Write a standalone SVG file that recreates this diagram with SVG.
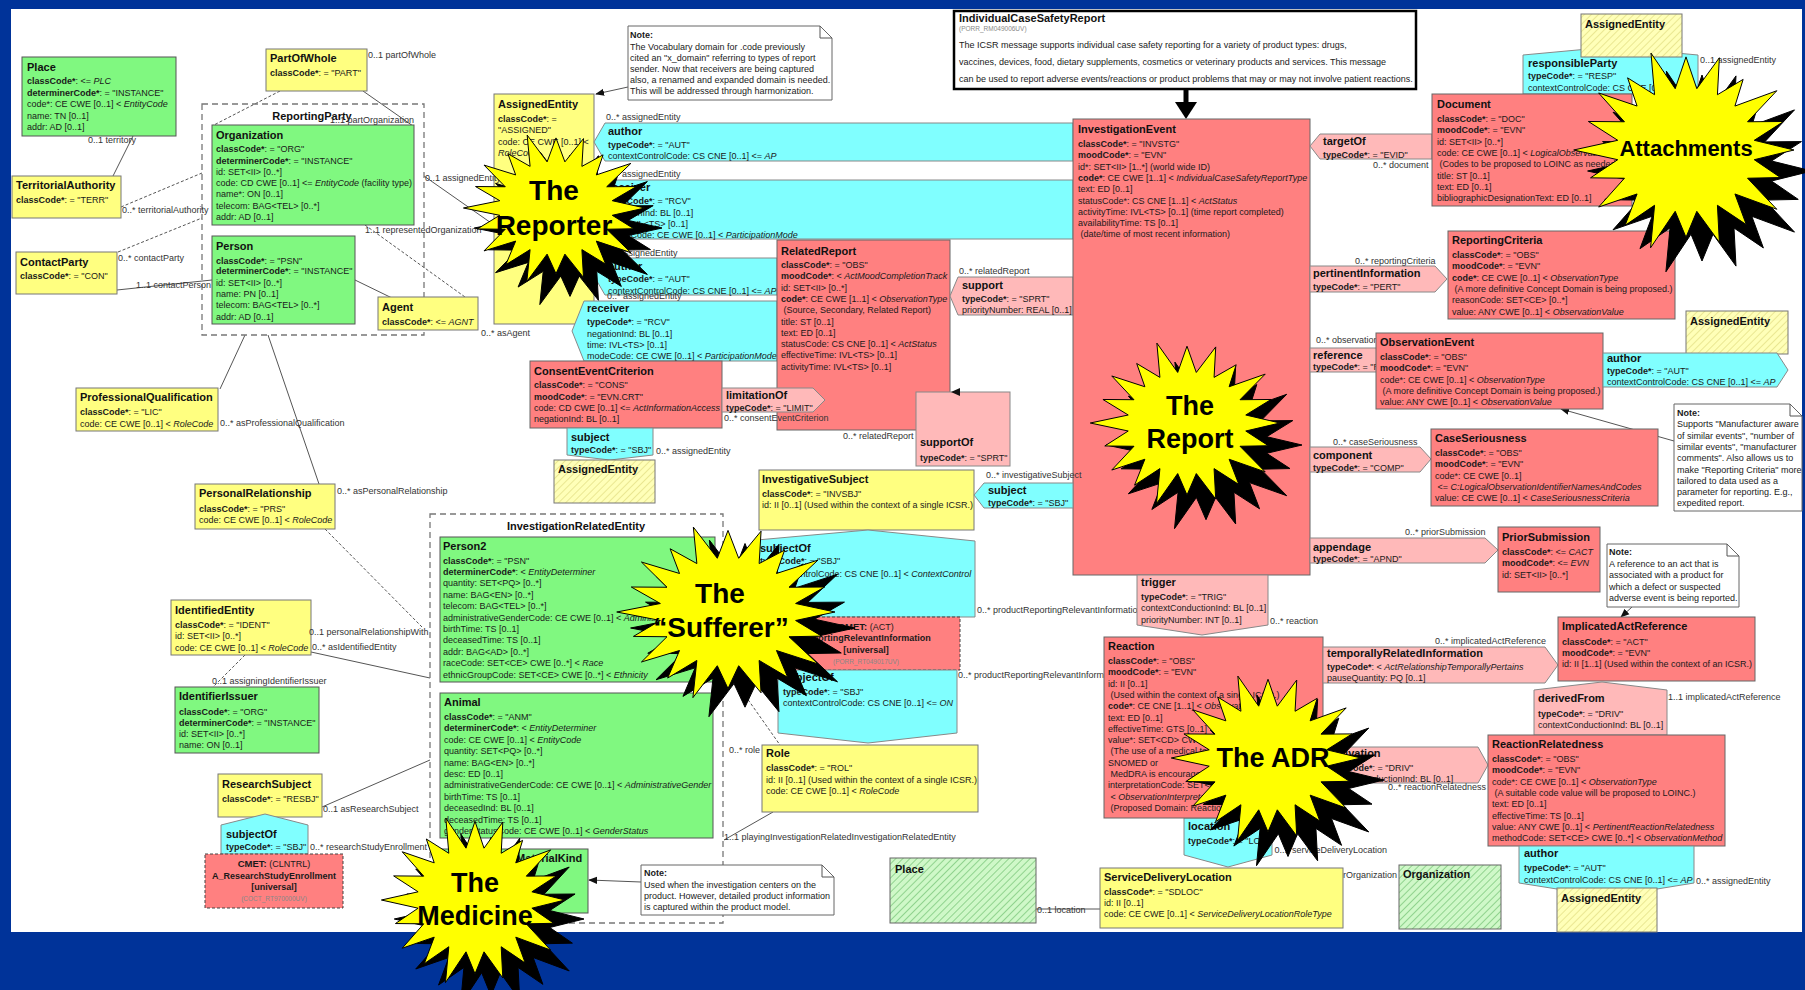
<svg xmlns="http://www.w3.org/2000/svg" width="1805" height="990" viewBox="0 0 1805 990">
<defs>
<style>
text{font-family:"Liberation Sans",Arial,sans-serif}
.t{font-size:11px;font-weight:bold;fill:#111}
.a{font-size:9px;fill:#1a1a1a}
.b{font-weight:bold}
.i{font-style:italic}
.lb{font-size:9px;fill:#333}
.sm{font-size:6.5px;fill:#888}
.cm{text-anchor:middle}
.act{fill:#ff8080;stroke:#666;stroke-width:1}
.rel{fill:#ffb9b9;stroke:#888;stroke-width:1}
.prt{fill:#80ffff;stroke:#888;stroke-width:1}
.rol{fill:#ffff80;stroke:#777;stroke-width:1}
.ent{fill:#80f880;stroke:#555;stroke-width:1}
.roh{fill:url(#hy);stroke:#777;stroke-width:1}
.enh{fill:url(#hg);stroke:#666;stroke-width:1}
.cmet{fill:#ff8080;stroke:#444;stroke-width:1;stroke-dasharray:3 2}
.note{fill:#fff;stroke:#666;stroke-width:1}
.grp{fill:none;stroke:#777;stroke-width:1.3;stroke-dasharray:6 4}
.ln{fill:none;stroke:#555;stroke-width:1}
.dl{fill:none;stroke:#555;stroke-width:1;stroke-dasharray:3 2}
.star{fill:#ffff00;stroke:#000;stroke-width:1}
.sh{fill:#000;stroke:#000;stroke-width:1}
.bt{font-weight:bold;fill:#000;text-anchor:middle}
</style>
<pattern id="hy" width="5" height="5" patternUnits="userSpaceOnUse" patternTransform="rotate(45)"><rect width="5" height="5" fill="#ffffb8"/><line x1="0" y1="0" x2="0" y2="5" stroke="#dcd878" stroke-width="1.2"/></pattern>
<pattern id="hg" width="5" height="5" patternUnits="userSpaceOnUse" patternTransform="rotate(45)"><rect width="5" height="5" fill="#cff8c8"/><line x1="0" y1="0" x2="0" y2="5" stroke="#66bb66" stroke-width="1.2"/></pattern>
<marker id="arr" viewBox="0 0 10 10" refX="9" refY="5" markerWidth="9" markerHeight="9" markerUnits="userSpaceOnUse" orient="auto"><path d="M0,1 L10,5 L0,9 Z" fill="#111"/></marker>
<!-- 20-spike burst outline, radius about 100 around the origin -->
<path id="burst" vector-effect="non-scaling-stroke" d="M100,0 L63.2,10 L87.5,28.4 L57,29.1 L84.1,61.1 L45.3,45.3 L55.8,76.9 L29.1,57 L30.9,95.1 L10,63.2 L0,90 L-10,63.2 L-32.8,100.8 L-29.1,57 L-56.4,77.7 L-45.3,45.3 L-80.9,58.8 L-57,29.1 L-88.4,28.7 L-63.2,10 L-104,0 L-63.2,-10 L-90.4,-29.4 L-57,-29.1 L-80.9,-58.8 L-45.3,-45.3 L-54.1,-74.4 L-29.1,-57 L-32.4,-99.9 L-10,-63.2 L0,-96 L10,-63.2 L30.9,-95.1 L29.1,-57 L52.9,-72.8 L45.3,-45.3 L84.1,-61.1 L57,-29.1 L90.4,-29.4 L63.2,-10 Z"/>
</defs>

<!-- slide background and page -->
<rect x="0" y="0" width="1805" height="990" fill="#003399"/>
<rect x="11" y="9" width="1791" height="923" fill="#ffffff"/>

<!-- connectors and association labels that sit under the boxes -->
<g id="connectors">
  <line class="ln" x1="133" y1="136" x2="113" y2="176"/>
  <line class="dl" x1="121" y1="207" x2="202" y2="173"/>
  <line class="dl" x1="118" y1="252" x2="202" y2="218"/>
  <line class="ln" x1="117" y1="290" x2="212" y2="280"/>
  <line class="dl" x1="280" y1="91" x2="212" y2="126"/>
  <line class="ln" x1="363" y1="91" x2="413" y2="126"/>
  <line class="dl" x1="365" y1="225" x2="465" y2="297"/>
  <line class="ln" x1="355" y1="280" x2="392" y2="298"/>
  <line class="ln" x1="424" y1="176" x2="494" y2="225"/>
  <line class="ln" x1="245" y1="335" x2="220" y2="389"/>
  <line class="ln" x1="268" y1="335" x2="319" y2="484"/>
  <line class="dl" x1="325" y1="529" x2="422" y2="627"/>
  <line class="ln" x1="311" y1="652" x2="430" y2="678"/>
  <line class="dl" x1="245" y1="655" x2="213" y2="687"/>
  <line class="ln" x1="322" y1="807" x2="430" y2="760"/>
  <line class="dl" x1="725" y1="667" x2="780" y2="745"/>
  <line class="ln" x1="773" y1="812" x2="724" y2="840"/>
  <line class="ln" x1="1036" y1="909" x2="1100" y2="909"/>
  <line class="ln" x1="628" y1="87" x2="596" y2="94" marker-end="url(#arr)"/>
  <line class="ln" x1="641" y1="882" x2="589" y2="880" marker-end="url(#arr)"/>
  <line class="ln" x1="1674" y1="441" x2="1561" y2="409" marker-end="url(#arr)"/>
  <line class="ln" x1="1632" y1="607" x2="1621" y2="617" marker-end="url(#arr)"/>
  <line x1="1186" y1="89" x2="1186" y2="104" stroke="#000" stroke-width="5"/>
  <polygon points="1175,102 1197,102 1186,119" fill="#000"/>
  <text class="lb" x="977" y="613">0..* productReportingRelevantInformation</text>
  <text class="lb" x="958" y="678">0..* productReportingRelevantInformation</text>
  <text class="lb" x="1316" y="343">0..* observation</text>
  <text class="lb" x="1387" y="853" text-anchor="end">0..1 serviceDeliveryLocation</text>
  <text class="lb" x="1397" y="878" text-anchor="end">0..1 serviceProviderOrganization</text>
</g>

<!-- left cluster: reporting party -->
<g id="place">
  <rect class="ent" x="22" y="57" width="154" height="79"/>
  <text class="t" x="27" y="71">Place</text>
  <text class="a"><tspan x="27" y="84"><tspan class="b">classCode*</tspan>: &lt;= <tspan class="i">PLC</tspan></tspan><tspan x="27" y="95.5"><tspan class="b">determinerCode*</tspan>: = "INSTANCE"</tspan><tspan x="27" y="107">code*: CE CWE [0..1] &lt; <tspan class="i">EntityCode</tspan></tspan><tspan x="27" y="118.5">name: TN [0..1]</tspan><tspan x="27" y="130">addr: AD [0..1]</tspan></text>
</g>
<g id="territorial-authority">
  <rect class="rol" x="12" y="176" width="109" height="42"/>
  <text class="t" x="16" y="189">TerritorialAuthority</text>
  <text class="a" x="16" y="203"><tspan class="b">classCode*</tspan>: = "TERR"</text>
</g>
<g id="contact-party">
  <rect class="rol" x="16" y="252" width="101" height="42"/>
  <text class="t" x="20" y="266">ContactParty</text>
  <text class="a" x="20" y="279"><tspan class="b">classCode*</tspan>: = "CON"</text>
</g>
<g id="part-of-whole">
  <rect class="rol" x="266" y="49" width="101" height="42"/>
  <text class="t" x="270" y="62">PartOfWhole</text>
  <text class="a" x="270" y="76"><tspan class="b">classCode*</tspan>: = "PART"</text>
</g>
<g id="reporting-party">
  <rect class="grp" x="202" y="104" width="222" height="231"/>
  <text class="t cm" x="312" y="120">ReportingParty</text>
</g>
<g id="organization">
  <rect class="ent" x="212" y="125" width="202" height="100"/>
  <text class="t" x="216" y="139">Organization</text>
  <text class="a"><tspan x="216" y="152"><tspan class="b">classCode*</tspan>: = "ORG"</tspan><tspan x="216" y="164"><tspan class="b">determinerCode*</tspan>: = "INSTANCE"</tspan><tspan x="216" y="175">id: SET&lt;II&gt; [0..*]</tspan><tspan x="216" y="186">code: CD CWE [0..1] &lt;= <tspan class="i">EntityCode</tspan> (facility type)</tspan><tspan x="216" y="197">name*: ON [0..1]</tspan><tspan x="216" y="208.5">telecom: BAG&lt;TEL&gt; [0..*]</tspan><tspan x="216" y="220">addr: AD [0..1]</tspan></text>
</g>
<g id="person">
  <rect class="ent" x="212" y="236" width="143" height="88"/>
  <text class="t" x="216" y="250">Person</text>
  <text class="a"><tspan x="216" y="263.5"><tspan class="b">classCode*</tspan>: = "PSN"</tspan><tspan x="216" y="274"><tspan class="b">determinerCode*</tspan>: = "INSTANCE"</tspan><tspan x="216" y="285.5">id: SET&lt;II&gt; [0..*]</tspan><tspan x="216" y="297">name: PN [0..1]</tspan><tspan x="216" y="308">telecom: BAG&lt;TEL&gt; [0..*]</tspan><tspan x="216" y="319.5">addr: AD [0..1]</tspan></text>
</g>
<g id="agent">
  <rect class="rol" x="378" y="297" width="100" height="33"/>
  <text class="t" x="382" y="311">Agent</text>
  <text class="a" x="382" y="325"><tspan class="b">classCode*</tspan>: &lt;= <tspan class="i">AGNT</tspan></text>
</g>
<g id="professional-qualification">
  <rect class="rol" x="76" y="388" width="142" height="43"/>
  <text class="t" x="80" y="401">ProfessionalQualification</text>
  <text class="a"><tspan x="80" y="415"><tspan class="b">classCode*</tspan>: = "LIC"</tspan><tspan x="80" y="426.5">code: CE CWE [0..1] &lt; <tspan class="i">RoleCode</tspan></tspan></text>
</g>
<g id="personal-relationship">
  <rect class="rol" x="195" y="484" width="140" height="45"/>
  <text class="t" x="199" y="497">PersonalRelationship</text>
  <text class="a"><tspan x="199" y="512"><tspan class="b">classCode*</tspan>: = "PRS"</tspan><tspan x="199" y="523">code: CE CWE [0..1] &lt; <tspan class="i">RoleCode</tspan></tspan></text>
</g>
<g id="identified-entity">
  <rect class="rol" x="171" y="600" width="140" height="55"/>
  <text class="t" x="175" y="614">IdentifiedEntity</text>
  <text class="a"><tspan x="175" y="628"><tspan class="b">classCode*</tspan>: = "IDENT"</tspan><tspan x="175" y="639">id: SET&lt;II&gt; [0..*]</tspan><tspan x="175" y="650.5">code: CE CWE [0..1] &lt; <tspan class="i">RoleCode</tspan></tspan></text>
</g>
<g id="identifier-issuer">
  <rect class="ent" x="175" y="687" width="144" height="66"/>
  <text class="t" x="179" y="700">IdentifierIssuer</text>
  <text class="a"><tspan x="179" y="714.5"><tspan class="b">classCode*</tspan>: = "ORG"</tspan><tspan x="179" y="725.5"><tspan class="b">determinerCode*</tspan>: = "INSTANCE"</tspan><tspan x="179" y="737">id: SET&lt;II&gt; [0..*]</tspan><tspan x="179" y="748">name: ON [0..1]</tspan></text>
</g>
<g id="research-subject">
  <rect class="rol" x="218" y="774" width="104" height="43"/>
  <text class="t" x="222" y="788">ResearchSubject</text>
  <text class="a" x="222" y="802"><tspan class="b">classCode*</tspan>: = "RESBJ"</text>
</g>
<g id="research-subject-of">
  <polygon class="prt" points="221,825 265,814 308,825 308,854 221,854"/>
  <text class="t" x="226" y="838">subjectOf</text>
  <text class="a" x="226" y="850"><tspan class="b">typeCode*</tspan>: = "SBJ"</text>
</g>
<g id="cmet-research-study">
  <rect class="cmet" x="205" y="854" width="138" height="54"/>
  <text class="a cm" x="274" y="867"><tspan class="b" font-size="9.5">CMET:</tspan> (CLNTRL)</text>
  <text class="a cm b" x="274" y="879" font-size="9.5">A_ResearchStudyEnrollment</text>
  <text class="a cm b" x="274" y="890" font-size="9.5">[universal]</text>
  <text class="sm cm" x="274" y="901">(COCT_RT970000UV)</text>
</g>

<!-- reporter participations -->
<g id="assigned-entity-reporter">
  <rect class="rol" x="494" y="94" width="100" height="230"/>
  <text class="t" x="498" y="108">AssignedEntity</text>
  <text class="a"><tspan x="498" y="122"><tspan class="b">classCode*</tspan>: =</tspan><tspan x="498" y="133">"ASSIGNED"</tspan><tspan x="498" y="145">code: CE CWE [0..1] &lt;</tspan><tspan x="498" y="156" class="i">RoleCode</tspan></text>
</g>
<g id="note-vocabulary">
  <path class="note" d="M628,26 H820 L832,38 V100 H628 Z"/>
  <path class="ln" d="M820,26 V38 H832"/>
  <text class="a"><tspan x="630" y="38" class="b">Note:</tspan><tspan x="630" y="49.5">The Vocabulary domain for .code previously</tspan><tspan x="630" y="60.5">cited an "x_domain" referring to types of report</tspan><tspan x="630" y="71.5">sender.  Now  that receivers are being captured</tspan><tspan x="630" y="83">also, a renamed and expanded domain is needed.</tspan><tspan x="630" y="94">This will be addressed through harmonization.</tspan></text>
</g>
<g id="author-1">
  <polygon class="prt" points="605,123 1073,123 1073,161 605,161 594,142"/>
  <text class="t" x="608" y="135">author</text>
  <text class="a"><tspan x="608" y="147.5"><tspan class="b">typeCode*</tspan>: = "AUT"</tspan><tspan x="608" y="158.5">contextControlCode: CS CNE [0..1] &lt;= <tspan class="i">AP</tspan></tspan></text>
</g>
<g id="receiver-1">
  <polygon class="prt" points="605,180 1073,180 1073,239 605,239 594,210"/>
  <text class="t" x="608" y="191">receiver</text>
  <text class="a"><tspan x="608" y="203.5"><tspan class="b">typeCode*</tspan>: = "RCV"</tspan><tspan x="608" y="215.5">negationInd: BL [0..1]</tspan><tspan x="608" y="226.5">time: IVL&lt;TS&gt; [0..1]</tspan><tspan x="608" y="237.5">modeCode: CE CWE [0..1] &lt; <tspan class="i">ParticipationMode</tspan></tspan></text>
</g>
<g id="author-2">
  <polygon class="prt" points="605,258 777,258 777,295 605,295 594,276"/>
  <text class="t" x="608" y="270">author</text>
  <text class="a"><tspan x="608" y="282"><tspan class="b">typeCode*</tspan>: = "AUT"</tspan><tspan x="608" y="293.5">contextControlCode: CS CNE [0..1] &lt;= <tspan class="i">AP</tspan></tspan></text>
</g>
<g id="receiver-2">
  <polygon class="prt" points="584,301 777,301 777,361 584,361 572,331"/>
  <text class="t" x="587" y="312">receiver</text>
  <text class="a"><tspan x="587" y="325"><tspan class="b">typeCode*</tspan>: = "RCV"</tspan><tspan x="587" y="336.5">negationInd: BL [0..1]</tspan><tspan x="587" y="348">time: IVL&lt;TS&gt; [0..1]</tspan><tspan x="587" y="359">modeCode: CE CWE [0..1] &lt; <tspan class="i">ParticipationMode</tspan></tspan></text>
</g>
<g id="related-report">
  <rect class="act" x="777" y="240" width="173" height="190"/>
  <text class="t" x="781" y="255">RelatedReport</text>
  <text class="a"><tspan x="781" y="268"><tspan class="b">classCode*</tspan>: = "OBS"</tspan><tspan x="781" y="279.3"><tspan class="b">moodCode*</tspan>: &lt; <tspan class="i">ActMoodCompletionTrack</tspan></tspan><tspan x="781" y="290.6">id: SET&lt;II&gt; [0..*]</tspan><tspan x="781" y="301.9"><tspan class="b">code*</tspan>: CE CWE [1..1] &lt; <tspan class="i">ObservationType</tspan></tspan><tspan x="781" y="313.2"> (Source, Secondary, Related Report)</tspan><tspan x="781" y="324.5">title: ST [0..1]</tspan><tspan x="781" y="335.8">text: ED [0..1]</tspan><tspan x="781" y="347.1">statusCode: CS CNE [0..1] &lt; <tspan class="i">ActStatus</tspan></tspan><tspan x="781" y="358.4">effectiveTime: IVL&lt;TS&gt; [0..1]</tspan><tspan x="781" y="369.7">activityTime: IVL&lt;TS&gt; [0..1]</tspan></text>
</g>
<g id="support">
  <polygon class="rel" points="958,277 1073,277 1073,315 958,315 950,296"/>
  <text class="t" x="962" y="289">support</text>
  <text class="a"><tspan x="962" y="302"><tspan class="b">typeCode*</tspan>: = "SPRT"</tspan><tspan x="962" y="313">priorityNumber: REAL [0..1]</tspan></text>
</g>
<g id="support-of">
  <rect class="rel" x="916" y="392" width="94" height="74"/>
  <polygon points="951,392 960,388 960,396" fill="#111"/>
  <text class="t" x="920" y="446">supportOf</text>
  <text class="a" x="920" y="461"><tspan class="b">typeCode*</tspan>: = "SPRT"</text>
</g>
<g id="consent-event-criterion">
  <rect class="act" x="530" y="361" width="192" height="67"/>
  <text class="t" x="534" y="375">ConsentEventCriterion</text>
  <text class="a"><tspan x="534" y="388"><tspan class="b">classCode*</tspan>: = "CONS"</tspan><tspan x="534" y="399.5"><tspan class="b">moodCode*</tspan>: = "EVN.CRT"</tspan><tspan x="534" y="411">code: CD CWE [0..1] &lt;= <tspan class="i">ActInformationAccess</tspan></tspan><tspan x="534" y="422">negationInd: BL [0..1]</tspan></text>
</g>
<g id="limitation-of">
  <polygon class="rel" points="722,388 813,388 825,400 813,412 722,412"/>
  <text class="t" x="726" y="399">limitationOf</text>
  <text class="a" x="726" y="411"><tspan class="b">typeCode*</tspan>: = "LIMIT"</text>
</g>
<g id="consent-subject">
  <polygon class="prt" points="567,428 653,428 653,455 610,460 567,455"/>
  <text class="t" x="571" y="441">subject</text>
  <text class="a" x="571" y="453"><tspan class="b">typeCode*</tspan>: = "SBJ"</text>
</g>
<g id="assigned-entity-consent">
  <rect class="roh" x="554" y="460" width="101" height="43"/>
  <text class="t" x="558" y="473">AssignedEntity</text>
</g>

<!-- core act -->
<g id="icsr-entry">
  <rect x="954" y="11" width="462" height="78" fill="#fff" stroke="#000" stroke-width="2.5"/>
  <text class="t" x="959" y="22">IndividualCaseSafetyReport</text>
  <text class="sm" x="959" y="31">(PORR_RM049006UV)</text>
  <text class="a"><tspan x="959" y="48">The ICSR message supports individual case safety reporting for a variety of product types: drugs,</tspan><tspan x="959" y="65">vaccines, devices, food, dietary supplements, cosmetics or veterinary products and services.  This message</tspan><tspan x="959" y="82">can be used to report adverse events/reactions or product problems that may or may not involve patient reactions.</tspan></text>
</g>
<g id="investigation-event">
  <rect class="act" x="1073" y="119" width="237" height="456"/>
  <text class="t" x="1078" y="133">InvestigationEvent</text>
  <text class="a"><tspan x="1078" y="147"><tspan class="b">classCode*</tspan>: = "INVSTG"</tspan><tspan x="1078" y="158.3"><tspan class="b">moodCode*</tspan>: = "EVN"</tspan><tspan x="1078" y="169.6">id*: SET&lt;II&gt; [1..*] (world wide ID)</tspan><tspan x="1078" y="180.9"><tspan class="b">code*</tspan>: CE CWE [1..1] &lt; <tspan class="i">IndividualCaseSafetyReportType</tspan></tspan><tspan x="1078" y="192.2">text: ED [0..1]</tspan><tspan x="1078" y="203.5">statusCode*: CS CNE [1..1] &lt; <tspan class="i">ActStatus</tspan></tspan><tspan x="1078" y="214.8">activityTime: IVL&lt;TS&gt; [0..1] (time report completed)</tspan><tspan x="1078" y="226.1">availabilityTime: TS [0..1]</tspan><tspan x="1078" y="237.4"> (date/time of most recent information)</tspan></text>
</g>

<!-- subject side -->
<g id="investigative-subject">
  <rect class="rol" x="759" y="470" width="215" height="60"/>
  <text class="t" x="762" y="483">InvestigativeSubject</text>
  <text class="a"><tspan x="762" y="497"><tspan class="b">classCode*</tspan>: = "INVSBJ"</tspan><tspan x="762" y="508">id: II [0..1] (Used within the context of a single ICSR.)</tspan></text>
</g>
<g id="investigation-subject">
  <polygon class="prt" points="984,483 1073,483 1073,508 984,508 974,495"/>
  <text class="t" x="988" y="494">subject</text>
  <text class="a" x="988" y="506"><tspan class="b">typeCode*</tspan>: = "SBJ"</text>
</g>
<g id="investigation-related-entity">
  <rect class="grp" x="430" y="514" width="293" height="409"/>
  <text class="t cm" x="576" y="530">InvestigationRelatedEntity</text>
</g>
<g id="person2">
  <rect class="ent" x="440" y="537" width="275" height="145"/>
  <text class="t" x="443" y="550">Person2</text>
  <text class="a"><tspan x="443" y="563.5"><tspan class="b">classCode*</tspan>: = "PSN"</tspan><tspan x="443" y="574.9"><tspan class="b">determinerCode*</tspan>: &lt; <tspan class="i">EntityDeterminer</tspan></tspan><tspan x="443" y="586.3">quantity: SET&lt;PQ&gt; [0..*]</tspan><tspan x="443" y="597.7">name: BAG&lt;EN&gt; [0..*]</tspan><tspan x="443" y="609.1">telecom: BAG&lt;TEL&gt; [0..*]</tspan><tspan x="443" y="620.5">administrativeGenderCode: CE CWE [0..1] &lt; <tspan class="i">AdministrativeGender</tspan></tspan><tspan x="443" y="631.9">birthTime: TS [0..1]</tspan><tspan x="443" y="643.3">deceasedTime: TS [0..1]</tspan><tspan x="443" y="654.7">addr: BAG&lt;AD&gt; [0..*]</tspan><tspan x="443" y="666.1">raceCode: SET&lt;CE&gt; CWE [0..*] &lt; <tspan class="i">Race</tspan></tspan><tspan x="443" y="677.5">ethnicGroupCode: SET&lt;CE&gt; CWE [0..*] &lt; <tspan class="i">Ethnicity</tspan></tspan></text>
</g>
<g id="animal">
  <rect class="ent" x="440" y="693" width="273" height="145"/>
  <text class="t" x="444" y="706">Animal</text>
  <text class="a"><tspan x="444" y="720"><tspan class="b">classCode*</tspan>: = "ANM"</tspan><tspan x="444" y="731.4"><tspan class="b">determinerCode*</tspan>: &lt; <tspan class="i">EntityDeterminer</tspan></tspan><tspan x="444" y="742.8">code: CE CWE [0..1] &lt; <tspan class="i">EntityCode</tspan></tspan><tspan x="444" y="754.2">quantity: SET&lt;PQ&gt; [0..*]</tspan><tspan x="444" y="765.6">name: BAG&lt;EN&gt; [0..*]</tspan><tspan x="444" y="777">desc: ED [0..1]</tspan><tspan x="444" y="788.4">administrativeGenderCode: CE CWE [0..1] &lt; <tspan class="i">AdministrativeGender</tspan></tspan><tspan x="444" y="799.8">birthTime: TS [0..1]</tspan><tspan x="444" y="811.2">deceasedInd: BL [0..1]</tspan><tspan x="444" y="822.6">deceasedTime: TS [0..1]</tspan><tspan x="444" y="834">genderStatusCode: CE CWE [0..1] &lt; <tspan class="i">GenderStatus</tspan></tspan></text>
</g>
<g id="manufactured-material-kind">
  <rect class="ent" x="440" y="849" width="148" height="64"/>
  <text class="t" x="444" y="862">ManufacturedMaterialKind</text>
</g>
<g id="note-product">
  <path class="note" d="M641,865 H822 L834,877 V915 H641 Z"/>
  <path class="ln" d="M822,865 V877 H834"/>
  <text class="a"><tspan x="644" y="876" class="b">Note:</tspan><tspan x="644" y="887.5">Used when the investigation centers on the</tspan><tspan x="644" y="899">product.  However, detailed product information</tspan><tspan x="644" y="910">is captured within the product model.</tspan></text>
</g>
<g id="subject-of-relevant">
  <polygon class="prt" points="757,540 868,530 975,541 975,617 757,617"/>
  <text class="t" x="760" y="552">subjectOf</text>
  <text class="a"><tspan x="760" y="564"><tspan class="b">typeCode*</tspan>: = "SBJ"</tspan><tspan x="760" y="576.5">contextControlCode: CS CNE [0..1] &lt; <tspan class="i">ContextControl</tspan></tspan></text>
</g>
<g id="cmet-relevant-information">
  <rect class="cmet" x="772" y="617" width="188" height="53"/>
  <text class="a cm" x="866" y="630"><tspan class="b" font-size="9.5">CMET:</tspan> (ACT)</text>
  <text class="a cm b" x="866" y="641" font-size="9.5">ReportingRelevantInformation</text>
  <text class="a cm b" x="866" y="653" font-size="9.5">[universal]</text>
  <text class="sm cm" x="866" y="664">(PORR_RT049017UV)</text>
</g>
<g id="subject-of-role">
  <polygon class="prt" points="778,670 957,670 957,733 868,743 778,733"/>
  <text class="t" x="783" y="681">subjectOf</text>
  <text class="a"><tspan x="783" y="695"><tspan class="b">typeCode*</tspan>: = "SBJ"</tspan><tspan x="783" y="706">contextControlCode: CS CNE [0..1] &lt;= <tspan class="i">ON</tspan></tspan></text>
</g>
<g id="role">
  <rect class="rol" x="762" y="745" width="216" height="67"/>
  <text class="t" x="766" y="757">Role</text>
  <text class="a"><tspan x="766" y="771"><tspan class="b">classCode*</tspan>: = "ROL"</tspan><tspan x="766" y="783">id: II [0..1] (Used within the context of a single ICSR.)</tspan><tspan x="766" y="794">code: CE CWE [0..1] &lt; <tspan class="i">RoleCode</tspan></tspan></text>
</g>
<g id="place-location">
  <rect class="enh" x="890" y="858" width="146" height="65"/>
  <text class="t" x="895" y="873">Place</text>
</g>
<g id="service-delivery-location">
  <rect class="rol" x="1100" y="868" width="243" height="60"/>
  <text class="t" x="1104" y="881">ServiceDeliveryLocation</text>
  <text class="a"><tspan x="1104" y="895"><tspan class="b">classCode*</tspan>: = "SDLOC"</tspan><tspan x="1104" y="906">id: II [0..1]</tspan><tspan x="1104" y="917">code: CE CWE [0..1] &lt; <tspan class="i">ServiceDeliveryLocationRoleType</tspan></tspan></text>
</g>
<g id="organization-provider">
  <rect class="enh" x="1399" y="865" width="102" height="64"/>
  <text class="t" x="1403" y="878">Organization</text>
</g>

<!-- reaction side -->
<g id="trigger">
  <polygon class="rel" points="1137,575 1268,575 1268,625 1202,635 1137,625"/>
  <text class="t" x="1141" y="586">trigger</text>
  <text class="a"><tspan x="1141" y="600"><tspan class="b">typeCode*</tspan>: = "TRIG"</tspan><tspan x="1141" y="611">contextConductionInd: BL [0..1]</tspan><tspan x="1141" y="623">priorityNumber: INT [0..1]</tspan></text>
</g>
<g id="location">
  <polygon class="prt" points="1184,818 1272,818 1272,855 1228,867 1184,855"/>
  <text class="t" x="1188" y="830">location</text>
  <text class="a" x="1188" y="844"><tspan class="b">typeCode*</tspan>: = "LOC"</text>
</g>
<g id="reaction">
  <rect class="act" x="1104" y="637" width="219" height="181"/>
  <text class="t" x="1108" y="650">Reaction</text>
  <text class="a"><tspan x="1108" y="664"><tspan class="b">classCode*</tspan>: = "OBS"</tspan><tspan x="1108" y="675.3"><tspan class="b">moodCode*</tspan>: = "EVN"</tspan><tspan x="1108" y="686.6">id: II [0..1]</tspan><tspan x="1108" y="697.9"> (Used within the context of a single ICSR.)</tspan><tspan x="1108" y="709.2"><tspan class="b">code*</tspan>: CE CNE [1..1] &lt; <tspan class="i">ObservationType</tspan></tspan><tspan x="1108" y="720.5">text: ED [0..1]</tspan><tspan x="1108" y="731.8">effectiveTime: GTS [0..1]</tspan><tspan x="1108" y="743.1">value*: SET&lt;CD&gt; CWE [1..*]</tspan><tspan x="1108" y="754.4"> (The use of a medical terminology such as</tspan><tspan x="1108" y="765.7">SNOMED or</tspan><tspan x="1108" y="777"> MedDRA is encouraged.)</tspan><tspan x="1108" y="788.3">interpretationCode: SET&lt;CE&gt; CWE [0..*]</tspan><tspan x="1108" y="799.6"> &lt; <tspan class="i">ObservationInterpretation</tspan></tspan><tspan x="1108" y="810.9"> (Proposed Domain: ReactionOutcome)</tspan></text>
</g>
<g id="target-of">
  <polygon class="rel" points="1320,134 1432,134 1432,159 1320,159 1310,146"/>
  <text class="t" x="1323" y="145">targetOf</text>
  <text class="a" x="1323" y="157.5"><tspan class="b">typeCode*</tspan>: = "EVID"</text>
</g>
<g id="responsible-party">
  <polygon class="prt" points="1523,55 1610,47 1698,55 1698,94 1523,94"/>
  <text class="t" x="1528" y="67">responsibleParty</text>
  <text class="a"><tspan x="1528" y="79"><tspan class="b">typeCode*</tspan>: = "RESP"</tspan><tspan x="1528" y="91">contextControlCode: CS CNE [0..1] &lt;= <tspan class="i">AP</tspan></tspan></text>
</g>
<g id="assigned-entity-document">
  <rect class="roh" x="1581" y="14" width="101" height="43"/>
  <text class="t" x="1585" y="28">AssignedEntity</text>
</g>
<g id="document">
  <rect class="act" x="1432" y="94" width="200" height="112"/>
  <text class="t" x="1437" y="108">Document</text>
  <text class="a"><tspan x="1437" y="122"><tspan class="b">classCode*</tspan>: = "DOC"</tspan><tspan x="1437" y="133.3"><tspan class="b">moodCode*</tspan>: = "EVN"</tspan><tspan x="1437" y="144.6">id: SET&lt;II&gt; [0..*]</tspan><tspan x="1437" y="155.9">code: CE CWE [0..1] &lt; <tspan class="i">LogicalObservationIdentifierNamesAndCodes</tspan></tspan><tspan x="1437" y="167.2"> (Codes to be proposed to LOINC as needed)</tspan><tspan x="1437" y="178.5">title: ST [0..1]</tspan><tspan x="1437" y="189.8">text: ED [0..1]</tspan><tspan x="1437" y="201.1">bibliographicDesignationText: ED [0..1]</tspan></text>
</g>
<g id="pertinent-information">
  <polygon class="rel" points="1310,266 1435,266 1447,279 1435,292 1310,292"/>
  <text class="t" x="1313" y="277">pertinentInformation</text>
  <text class="a" x="1313" y="289.5"><tspan class="b">typeCode*</tspan>: = "PERT"</text>
</g>
<g id="reporting-criteria">
  <rect class="act" x="1448" y="231" width="227" height="88"/>
  <text class="t" x="1452" y="244">ReportingCriteria</text>
  <text class="a"><tspan x="1452" y="258"><tspan class="b">classCode*</tspan>: = "OBS"</tspan><tspan x="1452" y="269.3"><tspan class="b">moodCode*</tspan>: = "EVN"</tspan><tspan x="1452" y="280.6"><tspan class="b">code*</tspan>: CE CWE [0..1] &lt; <tspan class="i">ObservationType</tspan></tspan><tspan x="1452" y="291.9"> (A more definitive Concept Domain is being proposed.)</tspan><tspan x="1452" y="303.2">reasonCode: SET&lt;CE&gt; [0..*]</tspan><tspan x="1452" y="314.5">value: ANY CWE [0..1] &lt; <tspan class="i">ObservationValue</tspan></tspan></text>
</g>
<g id="assigned-entity-observation">
  <rect class="roh" x="1686" y="311" width="102" height="43"/>
  <text class="t" x="1690" y="325">AssignedEntity</text>
</g>
<g id="reference">
  <rect class="rel" x="1310" y="348" width="70" height="24"/>
  <text class="t" x="1313" y="359">reference</text>
  <text class="a" x="1313" y="370"><tspan class="b">typeCode*</tspan>: = "REFR"</text>
</g>
<g id="observation-event">
  <rect class="act" x="1376" y="333" width="227" height="76"/>
  <text class="t" x="1380" y="346">ObservationEvent</text>
  <text class="a"><tspan x="1380" y="360"><tspan class="b">classCode*</tspan>: = "OBS"</tspan><tspan x="1380" y="371.3"><tspan class="b">moodCode*</tspan>: = "EVN"</tspan><tspan x="1380" y="382.6">code*: CE CWE [0..1] &lt; <tspan class="i">ObservationType</tspan></tspan><tspan x="1380" y="393.9"> (A more definitive Concept Domain is being proposed.)</tspan><tspan x="1380" y="405.2">value: ANY CWE [0..1] &lt; <tspan class="i">ObservationValue</tspan></tspan></text>
</g>
<g id="author-observation">
  <polygon class="prt" points="1603,353 1777,353 1788,370 1777,387 1603,387"/>
  <text class="t" x="1607" y="362">author</text>
  <text class="a"><tspan x="1607" y="374"><tspan class="b">typeCode*</tspan>: = "AUT"</tspan><tspan x="1607" y="385">contextControlCode: CS CNE [0..1] &lt;= <tspan class="i">AP</tspan></tspan></text>
</g>
<g id="note-reporting-criteria">
  <path class="note" d="M1674,404 H1790 L1802,416 V511 H1674 Z"/>
  <path class="ln" d="M1790,404 V416 H1802"/>
  <text class="a" font-size="8.7"><tspan x="1677" y="416" class="b">Note:</tspan><tspan x="1677" y="427">Supports "Manufacturer aware</tspan><tspan x="1677" y="438.5">of similar events", "number of</tspan><tspan x="1677" y="450">similar events", "manufacturer</tspan><tspan x="1677" y="461">comments".  Also allows us to</tspan><tspan x="1677" y="472.5">make "Reporting Criteria" more</tspan><tspan x="1677" y="483.5">tailored to data used as a</tspan><tspan x="1677" y="495">parameter for reporting.   E.g.,</tspan><tspan x="1677" y="506">expedited report.</tspan></text>
</g>
<g id="component">
  <polygon class="rel" points="1310,447 1420,447 1431,459 1420,472 1310,472"/>
  <text class="t" x="1313" y="459">component</text>
  <text class="a" x="1313" y="471"><tspan class="b">typeCode*</tspan>: = "COMP"</text>
</g>
<g id="case-seriousness">
  <rect class="act" x="1431" y="429" width="227" height="77"/>
  <text class="t" x="1435" y="442">CaseSeriousness</text>
  <text class="a"><tspan x="1435" y="456"><tspan class="b">classCode*</tspan>: = "OBS"</tspan><tspan x="1435" y="467.3"><tspan class="b">moodCode*</tspan>: = "EVN"</tspan><tspan x="1435" y="478.6">code*: CE CWE [0..1]</tspan><tspan x="1435" y="489.9"> &lt;= <tspan class="i">C:LogicalObservationIdentifierNamesAndCodes</tspan></tspan><tspan x="1435" y="501.2">value: CE CWE [0..1] &lt; <tspan class="i">CaseSeriousnessCriteria</tspan></tspan></text>
</g>
<g id="appendage">
  <polygon class="rel" points="1310,538 1485,538 1498,550 1485,563 1310,563"/>
  <text class="t" x="1313" y="551">appendage</text>
  <text class="a" x="1313" y="562"><tspan class="b">typeCode*</tspan>: = "APND"</text>
</g>
<g id="prior-submission">
  <rect class="act" x="1498" y="527" width="102" height="65"/>
  <text class="t" x="1502" y="541">PriorSubmission</text>
  <text class="a"><tspan x="1502" y="555"><tspan class="b">classCode*</tspan>: &lt;= <tspan class="i">CACT</tspan></tspan><tspan x="1502" y="566.3"><tspan class="b">moodCode*</tspan>: &lt;= <tspan class="i">EVN</tspan></tspan><tspan x="1502" y="577.6">id: SET&lt;II&gt; [0..*]</tspan></text>
</g>
<g id="note-implicated-act">
  <path class="note" d="M1607,544 H1727 L1739,556 V607 H1607 Z"/>
  <path class="ln" d="M1727,544 V556 H1739"/>
  <text class="a"><tspan x="1609" y="555" class="b">Note:</tspan><tspan x="1609" y="567">A reference to an act that is</tspan><tspan x="1609" y="578">associated with a product for</tspan><tspan x="1609" y="590">which a defect or suspected</tspan><tspan x="1609" y="601">adverse event is being reported.</tspan></text>
</g>
<g id="temporally-related-information">
  <polygon class="rel" points="1323,647 1545,647 1558,665 1545,683 1323,683"/>
  <text class="t" x="1327" y="657">temporallyRelatedInformation</text>
  <text class="a"><tspan x="1327" y="670"><tspan class="b">typeCode*</tspan>: &lt; <tspan class="i">ActRelationshipTemporallyPertains</tspan></tspan><tspan x="1327" y="681">pauseQuantity: PQ [0..1]</tspan></text>
</g>
<g id="implicated-act-reference">
  <rect class="act" x="1558" y="617" width="197" height="64"/>
  <text class="t" x="1562" y="630">ImplicatedActReference</text>
  <text class="a"><tspan x="1562" y="645"><tspan class="b">classCode*</tspan>: = "ACT"</tspan><tspan x="1562" y="656"><tspan class="b">moodCode*</tspan>: = "EVN"</tspan><tspan x="1562" y="667">id: II [1..1] (Used within the context of an ICSR.)</tspan></text>
</g>
<g id="derived-from">
  <polygon class="rel" points="1534,690 1602,682 1667,690 1667,735 1534,735"/>
  <text class="t" x="1538" y="702">derivedFrom</text>
  <text class="a"><tspan x="1538" y="717"><tspan class="b">typeCode*</tspan>: = "DRIV"</tspan><tspan x="1538" y="728">contextConductionInd: BL [0..1]</tspan></text>
</g>
<g id="derivation">
  <polygon class="rel" points="1323,747 1478,747 1488,765 1478,783 1323,783"/>
  <text class="t" x="1328" y="757">derivation</text>
  <text class="a"><tspan x="1328" y="771"><tspan class="b">typeCode*</tspan>: = "DRIV"</tspan><tspan x="1328" y="782">contextConductionInd: BL [0..1]</tspan></text>
</g>
<g id="reaction-relatedness">
  <rect class="act" x="1488" y="735" width="237" height="111"/>
  <text class="t" x="1492" y="748">ReactionRelatedness</text>
  <text class="a"><tspan x="1492" y="762"><tspan class="b">classCode*</tspan>: = "OBS"</tspan><tspan x="1492" y="773.3"><tspan class="b">moodCode*</tspan>: = "EVN"</tspan><tspan x="1492" y="784.6">code*: CE CWE [0..1] &lt; <tspan class="i">ObservationType</tspan></tspan><tspan x="1492" y="795.9"> (A suitable code value will be proposed to LOINC.)</tspan><tspan x="1492" y="807.2">text: ED [0..1]</tspan><tspan x="1492" y="818.5">effectiveTime: TS [0..1]</tspan><tspan x="1492" y="829.8">value: ANY CWE [0..1] &lt; <tspan class="i">PertinentReactionRelatedness</tspan></tspan><tspan x="1492" y="841.1">methodCode: SET&lt;CE&gt; CWE [0..*] &lt; <tspan class="i">ObservationMethod</tspan></tspan></text>
</g>
<g id="author-relatedness">
  <polygon class="prt" points="1519,846 1694,846 1694,883 1657,889 1557,889 1519,883"/>
  <text class="t" x="1524" y="857">author</text>
  <text class="a"><tspan x="1524" y="871"><tspan class="b">typeCode*</tspan>: = "AUT"</tspan><tspan x="1524" y="883">contextControlCode: CS CNE [0..1] &lt;= <tspan class="i">AP</tspan></tspan></text>
</g>
<g id="assigned-entity-relatedness">
  <rect class="roh" x="1557" y="888" width="100" height="44"/>
  <text class="t" x="1561" y="902">AssignedEntity</text>
</g>

<!-- association end labels drawn over the boxes -->
<g id="labels">
  <text class="lb" x="88" y="143">0..1 territory</text>
  <text class="lb" x="122" y="213">0..* territorialAuthority</text>
  <text class="lb" x="118" y="261">0..* contactParty</text>
  <text class="lb" x="136" y="288">1..1 contactPerson</text>
  <text class="lb" x="368" y="58">0..1 partOfWhole</text>
  <text class="lb" x="330" y="123">1..1 partOrganization</text>
  <text class="lb" x="365" y="233">1..1 representedOrganization</text>
  <text class="lb" x="425" y="181">0..1 assignedEntity</text>
  <text class="lb" x="481" y="336">0..* asAgent</text>
  <text class="lb" x="220" y="426">0..* asProfessionalQualification</text>
  <text class="lb" x="337" y="494">0..* asPersonalRelationship</text>
  <text class="lb" x="309" y="635">0..1 personalRelationshipWith</text>
  <text class="lb" x="312" y="650">0..* asIdentifiedEntity</text>
  <text class="lb" x="212" y="684">0..1 assigningIdentifierIssuer</text>
  <text class="lb" x="323" y="812">0..1 asResearchSubject</text>
  <text class="lb" x="310" y="850">0..* researchStudyEnrollment</text>
  <text class="lb" x="606" y="120">0..* assignedEntity</text>
  <text class="lb" x="606" y="177">0..* assignedEntity</text>
  <text class="lb" x="603" y="256">0..* assignedEntity</text>
  <text class="lb" x="607" y="299">0..* assignedEntity</text>
  <text class="lb" x="724" y="421">0..* consentEventCriterion</text>
  <text class="lb" x="656" y="454">0..* assignedEntity</text>
  <text class="lb" x="959" y="274">0..* relatedReport</text>
  <text class="lb" x="843" y="439">0..* relatedReport</text>
  <text class="lb" x="986" y="478">0..* investigativeSubject</text>
  <text class="lb" x="729" y="753">0..* role</text>
  <text class="lb" x="724" y="840">1..1 playingInvestigationRelatedInvestigationRelatedEntity</text>
  <text class="lb" x="1037" y="913">0..1 location</text>
  <text class="lb" x="1270" y="624">0..* reaction</text>
  <text class="lb" x="1373" y="168">0..* document</text>
  <text class="lb" x="1700" y="63">0..1 assignedEntity</text>
  <text class="lb" x="1355" y="264">0..* reportingCriteria</text>
  <text class="lb" x="1333" y="445">0..* caseSeriousness</text>
  <text class="lb" x="1405" y="535">0..* priorSubmission</text>
  <text class="lb" x="1435" y="644">0..* implicatedActReference</text>
  <text class="lb" x="1668" y="700">1..1 implicatedActReference</text>
  <text class="lb" x="1388" y="790">0..* reactionRelatedness</text>
  <text class="lb" x="1696" y="884">0..* assignedEntity</text>
</g>

<!-- callout bursts with drop shadows -->
<g id="burst-reporter">
  <use href="#burst" class="sh" transform="translate(570,228) scale(0.92,0.76)"/>
  <use href="#burst" class="star" transform="translate(556,208) scale(0.89,0.73)"/>
  <text class="bt" font-size="28" x="554" y="200">The</text>
  <text class="bt" font-size="28" x="554" y="235">Reporter</text>
</g>
<g id="burst-report">
  <use href="#burst" class="sh" transform="translate(1206,445) scale(0.96,0.83)"/>
  <use href="#burst" class="star" transform="translate(1187,423) scale(0.93,0.8)"/>
  <text class="bt" font-size="27" x="1190" y="415">The</text>
  <text class="bt" font-size="27" x="1190" y="448">Report</text>
</g>
<g id="burst-sufferer">
  <use href="#burst" class="sh" transform="translate(745,628) scale(1.1,0.88)"/>
  <use href="#burst" class="star" transform="translate(728,612) scale(1.07,0.85)"/>
  <text class="bt" font-size="28" x="720" y="603">The</text>
  <text class="bt" font-size="28" x="721" y="637">“Sufferer”</text>
</g>
<g id="burst-adr">
  <use href="#burst" class="sh" transform="translate(1288,780) scale(0.96,0.85)"/>
  <use href="#burst" class="star" transform="translate(1268,758) scale(0.93,0.82)"/>
  <text class="bt" font-size="27" x="1273" y="767">The ADR</text>
</g>
<g id="burst-medicine">
  <use href="#burst" class="sh" transform="translate(491,919) scale(0.93,0.85)"/>
  <use href="#burst" class="star" transform="translate(475,900) scale(0.9,0.82)"/>
  <text class="bt" font-size="27" x="475" y="892">The</text>
  <text class="bt" font-size="27" x="475" y="925">Medicine</text>
</g>
<g id="burst-attachments">
  <use href="#burst" class="sh" transform="translate(1702,171) scale(1.1,1)"/>
  <use href="#burst" class="star" transform="translate(1686,150) scale(1.08,0.97)"/>
  <text class="bt" font-size="22" x="1686" y="156">Attachments</text>
</g>
</svg>
